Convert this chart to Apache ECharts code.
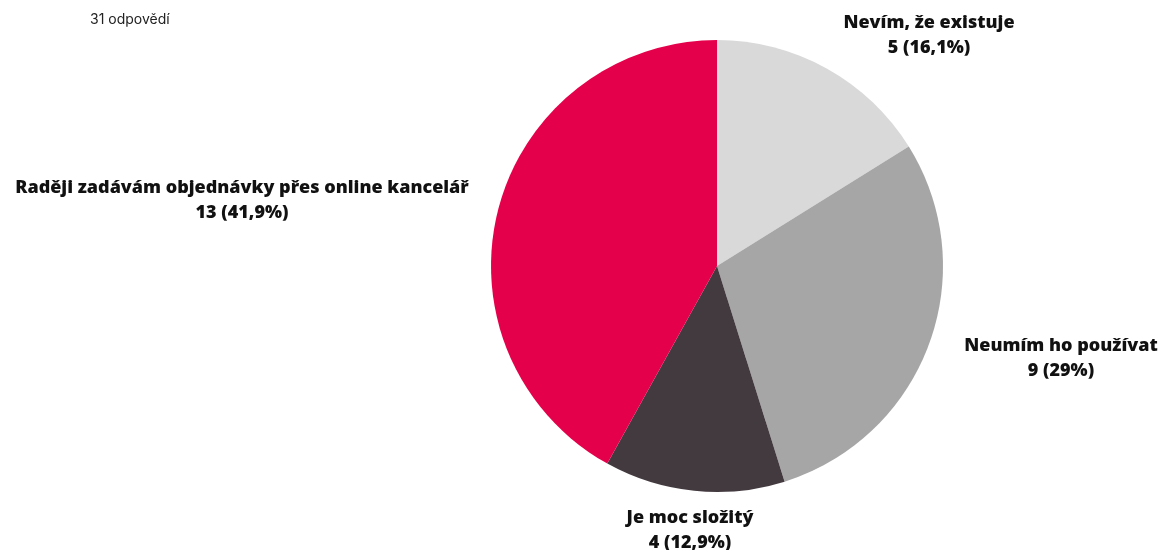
<!DOCTYPE html>
<html>
<head>
<meta charset="utf-8">
<script src="https://cdn.jsdelivr.net/npm/echarts@6/dist/echarts.min.js"></script>
<style>
  html, body { margin: 0; padding: 0; background: #ffffff; }
  #chart { width: 1171px; height: 550px; }
</style>
</head>
<body>
<div id="chart"></div>
<script>
// Survey answers and their counts (31 responses in total)
const categories = [
  'Nevím, že existuje',
  'Neumím ho používat',
  'Je moc složitý',
  'Raději zadávám objednávky přes online kancelář'
];
const counts = [5, 9, 4, 13];
const percentLabels = ['16,1%', '29%', '12,9%', '41,9%'];
const responsesText = '31 odpovědí';

// Slice colours and where each answer label is set on the page
const sliceColors = ['#d9d9d9', '#a6a6a6', '#433a40', '#e4004b'];
const labelAnchors = [[929, 35], [1061, 358], [690, 530], [242, 200]];

const chart = echarts.init(document.getElementById('chart'), null, { renderer: 'canvas' });

chart.setOption({
  backgroundColor: '#ffffff',
  animation: false,
  graphic: [{
    type: 'text',
    left: 90,
    top: 13,
    style: {
      text: responsesText,
      font: '14px Inter',
      fill: '#222222'
    }
  }],
  series: [{
    type: 'pie',
    center: [717, 266],
    radius: [0, 226],
    startAngle: 90,
    clockwise: true,
    avoidLabelOverlap: false,
    silent: true,
    itemStyle: { borderWidth: 0 },
    label: {
      show: true,
      position: 'outside',
      fontFamily: 'Open Sans',
      fontWeight: 800,
      fontSize: 18,
      lineHeight: 25,
      color: '#111111',
      formatter: (p) => p.name + '\n' + p.value + ' (' + percentLabels[p.dataIndex] + ')'
    },
    labelLine: { show: false },
    labelLayout: (p) => ({
      x: labelAnchors[p.dataIndex][0],
      y: labelAnchors[p.dataIndex][1],
      align: 'center',
      verticalAlign: 'middle'
    }),
    data: categories.map((name, i) => ({
      name: name,
      value: counts[i],
      itemStyle: { color: sliceColors[i] }
    }))
  }]
});
</script>
</body>
</html>
